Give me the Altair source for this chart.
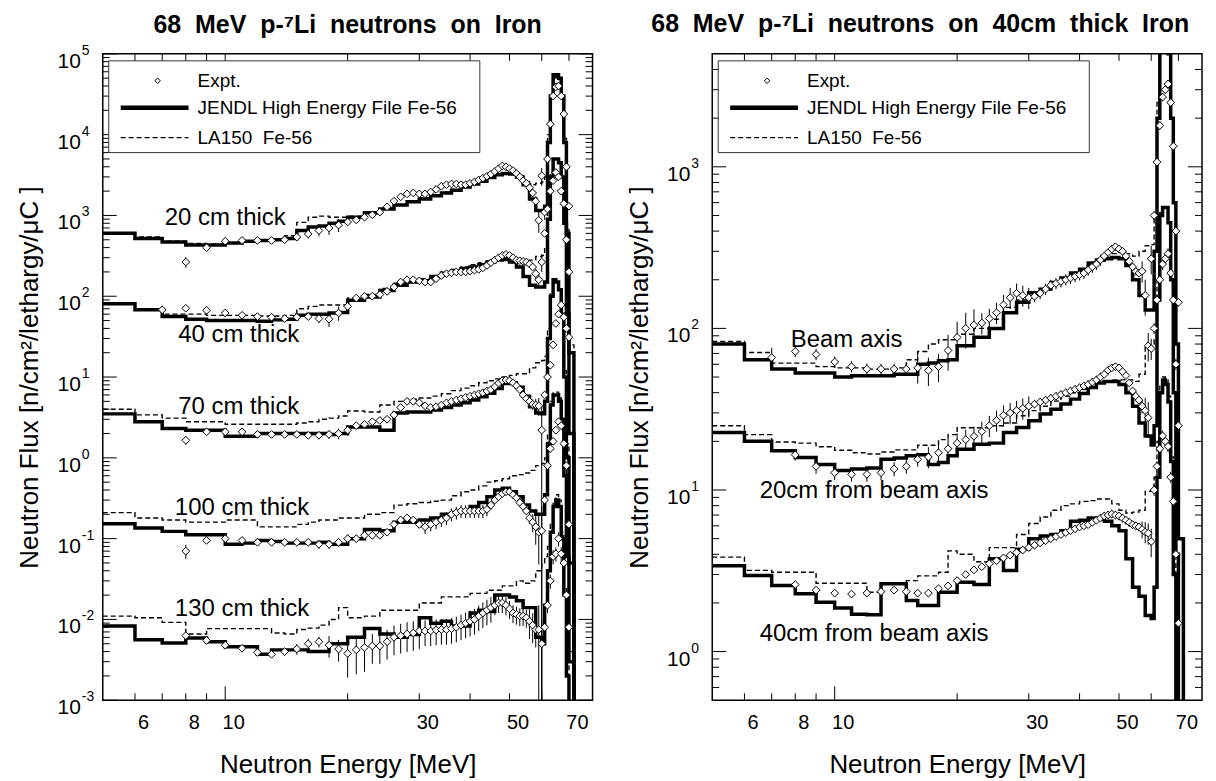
import altair as alt
import pandas as pd

FONT = "Liberation Sans"
NB = "\u00a0"

# ---------------- common grids ----------------
EDGES = [5, 6, 7, 8, 9, 10, 11, 12, 13, 14, 15, 16, 17, 18, 19, 20,
         22, 24, 26, 28, 30, 32, 34, 36, 38, 40, 42, 44, 46, 48, 50, 52, 54, 56, 58, 60,
         61, 62, 63, 64, 65, 66, 67, 68, 69, 70, 72, 75, 80]

EXP_E = [7, 8, 9, 10, 11, 12, 13, 14,
         15, 16, 17, 18, 19, 20, 21, 22,
         23, 24, 25, 26, 27, 28, 29, 30,
         31, 32, 33, 34, 35, 36, 37, 38,
         39, 40, 41, 42, 43, 44, 45, 46,
         47, 48, 49, 50, 51, 52, 53, 54,
         55, 56, 57, 58, 59, 60, 61, 62,
         63, 64, 65, 66, 67, 68, 69, 70]

# ---------------- left panel: thickness series ----------------
L20_J = [600, 520, 470, 430, 430, 455, 480, 490, 500, 520, 650, 720, 740, 800, 850,
         950, 1080, 1200, 1350, 1480, 1600, 1750, 1900, 2050, 2250, 2450, 2650, 2950, 3200, 3300,
         3250, 3000, 2400, 1600, 1150,
         1150, 1300, 8000, 30000, 55000, 55000, 50000, 30000, 8000, 600,
         20, 1e-6, 1e-6]
L20_L = [600, 540, 480, 450, 440, 460, 480, 490, 500, 560, 820, 950, 980, 950, 950,
         980, 1100, 1220, 1350, 1500, 1650, 1800, 1950, 2100, 2300, 2500, 2700, 3000, 3250, 3350,
         3300, 3100, 2700, 2400, 2500,
         2600, 3000, 10000, 30000, 50000, 52000, 48000, 30000, 9000, 700,
         25, 1e-6, 1e-6]
L20_X = [None, 265, 400, 480, 490, 490, 490, 500,
         540, 590, 650, 700, 760, 830, 880, 950,
         1020, 1100, 1280, 1500, 1700, 1850, 1900, 1850,
         1850, 1950, 2100, 2300, 2400, 2450, 2450, 2400,
         2400, 2500, 2600, 2750, 2900, 3050, 3250, 3500,
         3800, 4100, 4000, 3800, 3600, 3300, 3000, 2700,
         2500, 2200, 1900, 1500, 870, 3100, 1100, 5000,
         13500, 30000, 39000, 40000, 30000, 18000, 4000, 1300]
L20_E = [0, 15, 6, 5, 6, 6, 6, 8,
         10, 12, 15, 18, 18, 8, 6, 8,
         8, 8, 8, 4, 4, 4, 4, 4,
         4, 4, 4, 4, 4, 4, 4, 4,
         4, 4, 4, 4, 4, 4, 4, 4,
         4, 4, 4, 4, 4, 4, 4, 4,
         4, 4, 10, 15, 30, 25, 20, 6,
         5, 5, 5, 5, 5, 5, 8, 10]

L40_J = [81, 68, 56, 52, 50, 50, 50, 49, 51, 52, 58, 60, 60, 62, 63,
         89, 98, 118, 137, 150, 155, 175, 192, 205, 220, 230, 245, 265, 280, 285,
         265, 230, 175, 137, 130,
         130, 150, 900, 3000, 5000, 5000, 4500, 3000, 800, 60,
         2, 1e-6, 1e-6]
L40_L = [80, 68, 60, 60, 58, 58, 58, 57, 57, 58, 70, 75, 78, 78, 78,
         95, 105, 125, 145, 160, 165, 180, 200, 215, 230, 245, 260, 280, 295, 300,
         290, 270, 260, 280, 310,
         320, 400, 1200, 3200, 5000, 5000, 4500, 3000, 900, 70,
         3, 1e-6, 1e-6]
L40_X = [68, 71, 67, 62, 58, 56, 55, 53,
         55, 56, 53, 52, 62, 75, 95, 100,
         100, 105, 115, 130, 150, 160, 160, 155,
         150, 150, 165, 180, 190, 195, 200, 200,
         200, 205, 210, 215, 225, 240, 260, 280,
         300, 320, 330, 320, 300, 280, 275, 270,
         265, 250, 230, 190, 160, 265, 600, 1200,
         2000, 2700, 3400, 3000, 2000, 1400, 500, 200]
L40_E = [12, 6, 5, 5, 5, 5, 5, 5,
         5, 5, 12, 20, 20, 15, 10, 10,
         10, 10, 10, 8, 8, 8, 8, 8,
         4, 4, 4, 4, 4, 4, 4, 4,
         4, 4, 4, 4, 4, 4, 4, 4,
         4, 4, 4, 4, 4, 4, 4, 4,
         4, 4, 8, 15, 20, 25, 6, 6,
         6, 6, 6, 6, 6, 6, 8, 10]

L70_J = [3.5, 2.8, 2.3, 2.2, 2.2, 1.85, 1.85, 2.0, 2.0, 2.0, 2.0, 2.0, 2.0, 1.95, 2.0,
         2.4, 2.4, 2.2, 3.6, 3.7, 3.7, 3.9, 4.2, 4.5, 4.8, 5.2, 5.7, 6.3, 7.2, 8.3,
         8.5, 7.5, 5.8, 4.3, 3.6,
         3.5, 5, 30, 100, 160, 150, 120, 60, 10, 1.0,
         0.05, 1e-6, 1e-6]
L70_L = [4.0, 3.4, 3.1, 2.8, 2.8, 2.6, 2.6, 2.6, 2.6, 2.6, 2.7, 2.8, 3.0, 3.1, 3.3,
         3.8, 3.7, 4.5, 5.0, 5.3, 5.5, 5.8, 6.2, 6.8, 7.3, 7.8, 8.5, 9.0, 9.5, 10,
         10.5, 11, 11, 13, 15,
         16, 18, 40, 110, 150, 150, 120, 60, 12, 1.5,
         0.08, 1e-6, 1e-6]
L70_X = [None, 1.65, 2.1, 2.1, 2.1, 1.95, 1.95, 1.95,
         1.95, 1.9, 1.9, 1.95, 2.0, 2.2, 2.5, 2.6,
         2.8, 2.9, 3.0, 3.4, 4.2, 5.0, 5.0, 4.8,
         4.4, 4.2, 4.3, 4.5, 4.8, 5.0, 5.2, 5.4,
         5.6, 5.8, 6.0, 6.2, 6.4, 6.7, 7.0, 7.6,
         8.4, 9.0, 9.2, 9.0, 8.5, 7.8, 7.0, 6.0,
         5.4, 5.0, 4.6, 4.5, 4.4, 2.2, 6, 10,
         14, 25, 46, 60, 78, 55, 40, 31]
L70_E = [0, 12, 5, 5, 5, 5, 5, 5,
         5, 5, 8, 12, 15, 15, 10, 6,
         6, 6, 6, 6, 6, 6, 6, 6,
         4, 4, 4, 4, 4, 4, 4, 4,
         4, 4, 4, 4, 4, 4, 4, 4,
         4, 4, 4, 4, 4, 4, 4, 4,
         4, 10, 15, 20, 25, 100, 8, 8,
         8, 8, 8, 8, 8, 8, 8, 8]

L100_J = [0.153, 0.135, 0.123, 0.112, 0.112, 0.085, 0.088, 0.095, 0.092, 0.088, 0.088, 0.088, 0.09, 0.085, 0.085,
          0.1, 0.13, 0.125, 0.16, 0.16, 0.17, 0.18, 0.2, 0.21, 0.22, 0.25, 0.28, 0.33, 0.4, 0.42,
          0.38, 0.33, 0.26, 0.22, 0.2,
          0.2, 0.35, 1.5, 4.5, 6, 6, 5, 3, 0.6, 0.06,
          0.003, 1e-7, 1e-7]
L100_L = [0.21, 0.18, 0.17, 0.16, 0.16, 0.17, 0.17, 0.14, 0.14, 0.14, 0.15, 0.16, 0.17, 0.17, 0.18,
          0.18, 0.2, 0.21, 0.26, 0.27, 0.28, 0.29, 0.3, 0.34, 0.38, 0.4, 0.45, 0.5, 0.52, 0.55,
          0.6, 0.62, 0.65, 0.7, 0.8,
          0.85, 1.0, 2.0, 5.0, 6.5, 6.5, 5.5, 3, 0.7, 0.08,
          0.004, 1e-7, 1e-7]
L100_X = [None, 0.07, 0.095, 0.1, 0.095, 0.09, 0.09, 0.09,
          0.09, 0.09, 0.085, 0.085, 0.09, 0.1, 0.1, 0.11,
          0.11, 0.11, 0.12, 0.15, 0.17, 0.18, 0.17, 0.15,
          0.14, 0.15, 0.16, 0.17, 0.18, 0.2, 0.21, 0.22,
          0.22, 0.22, 0.22, 0.22, 0.22, 0.23, 0.26, 0.3,
          0.33, 0.36, 0.38, 0.38, 0.35, 0.32, 0.28, 0.25,
          0.22, 0.18, 0.16, 0.14, 0.12, 0.125, 0.3, 0.8,
          1.3, 1.6, 2.2, 2.8, 2.5, 1.5, 0.8, 0.15]
L100_E = [0, 20, 6, 6, 6, 6, 6, 6,
          6, 6, 12, 12, 12, 12, 10, 10,
          10, 10, 10, 10, 10, 10, 10, 10,
          18, 18, 18, 18, 18, 18, 18, 18,
          18, 18, 18, 18, 18, 18, 8, 8,
          8, 8, 8, 8, 8, 8, 8, 8,
          8, 15, 25, 40, 60, 100, 10, 10,
          10, 10, 10, 10, 10, 10, 10, 10]

L130_J = [0.0083, 0.0056, 0.0051, 0.0059, 0.0053, 0.0046, 0.0046, 0.0037, 0.0042, 0.0042, 0.0042, 0.004, 0.004, 0.005, 0.005,
          0.006, 0.0077, 0.0066, 0.006, 0.0065, 0.0105, 0.009, 0.0095, 0.0083, 0.0083, 0.012, 0.013, 0.0125, 0.02, 0.02,
          0.019, 0.017, 0.014, 0.014, 0.006,
          0.005, 0.015, 0.04, 0.12, 0.25, 0.3, 0.25, 0.1, 0.02, 0.002,
          1e-5, 1e-8, 1e-8]
L130_L = [0.011, 0.0105, 0.0092, 0.0066, 0.0077, 0.0077, 0.0077, 0.0077, 0.0068, 0.0066, 0.0075, 0.0078, 0.0085, 0.010, 0.014,
          0.0105, 0.011, 0.013, 0.013, 0.013, 0.016, 0.016, 0.019, 0.019, 0.019, 0.021, 0.021, 0.023, 0.023, 0.026,
          0.026, 0.03, 0.028, 0.03, 0.04,
          0.05, 0.06, 0.08, 0.15, 0.28, 0.35, 0.3, 0.12, 0.025, 0.003,
          1e-5, 1e-8, 1e-8]
L130_X = [None, 0.0063, 0.0055, 0.0048, 0.0044, 0.0039, 0.0037, 0.004,
          0.0043, 0.005, 0.0053, 0.0048, 0.0043, 0.0038, 0.0042, 0.0045,
          0.0047, 0.0047, 0.0053, 0.006, 0.0063, 0.0066, 0.0068, 0.0072,
          0.0072, 0.0072, 0.0074, 0.0075, 0.0075, 0.0077, 0.008, 0.0085,
          0.009, 0.0095, 0.01, 0.011, 0.012, 0.013, 0.014, 0.015,
          0.016, 0.016, 0.015, 0.0135, 0.012, 0.0115, 0.011, 0.011,
          0.0105, 0.0095, 0.0085, 0.0075, 0.0075, 0.005, 0.008, 0.015,
          0.03, 0.06, 0.065, 0.1, 0.065, 0.05, 0.02, 0.008]
L130_E = [0, 8, 8, 8, 8, 8, 8, 8,
          15, 15, 15, 30, 30, 50, 50, 50,
          40, 40, 40, 40, 40, 40, 40, 40,
          35, 35, 35, 35, 35, 35, 35, 35,
          35, 35, 35, 35, 35, 35, 35, 25,
          25, 25, 25, 25, 25, 25, 25, 25,
          25, 40, 40, 40, 100, 100, 20, 20,
          20, 20, 20, 20, 20, 20, 20, 20]

# ---------------- right panel: 40 cm iron, off-axis positions ----------------
RB_J = [80, 64, 56, 53, 53, 50, 51, 51, 51, 52, 52, 60, 61, 63, 64,
        78, 88, 100, 125, 145, 166, 175, 192, 205, 220, 232, 254, 265, 270, 275,
        270, 245, 200, 160, 130,
        130, 300, 2000, 5500, 7000, 7000, 5000, 2000, 600, 80,
        5, 1e-5, 1e-5]
RB_L = [83, 71, 61, 61, 58, 57, 57, 56, 56, 57, 64, 72, 80, 85, 85,
        92, 100, 114, 135, 150, 160, 175, 190, 200, 215, 230, 245, 260, 275, 290,
        295, 290, 280, 300, 325,
        330, 500, 2500, 5500, 7000, 6500, 5000, 2000, 600, 80,
        5, 1e-5, 1e-5]
RB_X = [66, 72, 69, 62, 58, 56, 56, 56,
        56, 57, 55, 58, 73, 88, 100, 105,
        108, 115, 125, 140, 155, 165, 160, 155,
        158, 165, 175, 185, 190, 195, 200, 205,
        210, 215, 220, 230, 240, 250, 265, 280,
        295, 310, 320, 310, 300, 280, 260, 240,
        225, 220, 226, 160, 78, 270, 500, 1070,
        1800, 2700, 3000, 3250, 2500, 1340, 400, 145]
RB_E = [15, 8, 8, 8, 8, 8, 8, 8,
        8, 20, 20, 20, 25, 25, 25, 25,
        15, 15, 15, 15, 15, 15, 15, 15,
        8, 8, 8, 8, 8, 8, 8, 8,
        8, 8, 8, 8, 8, 8, 8, 5,
        5, 5, 5, 5, 5, 5, 5, 5,
        5, 5, 15, 25, 20, 20, 6, 6,
        6, 6, 6, 6, 6, 6, 6, 6]

R20_J = [22.7, 20, 17.5, 15.9, 14.4, 13.2, 13.5, 13.7, 15.5, 15.8, 16.3, 16.5, 14.4, 14.8, 16.3,
         17.9, 19.2, 19.5, 22.7, 24.4, 26.8, 29.5, 31.6, 34, 36.5, 39.6, 43, 46, 47, 47,
         45, 40, 33, 26, 21.6,
         19, 25, 150, 500, 560, 560, 450, 200, 40, 4,
         0.3, 1e-5, 1e-5]
R20_L = [25, 22, 19.8, 19.5, 18.5, 17.6, 17, 16.7, 17.2, 17.7, 17.7, 18.9, 18.9, 20.5, 22,
         24.3, 24.3, 25, 26, 28.8, 31, 33, 35.5, 38, 40, 42, 44, 46, 47, 48,
         48, 48, 47, 52, 78,
         80, 85, 200, 520, 560, 560, 450, 200, 40, 4,
         0.3, 1e-5, 1e-5]
R20_X = [None, 16.5, 14, 12.8, 12.5, 12.5, 12.8, 13.5,
         14, 15.5, 16, 17, 18, 19.5, 20.5, 21.5,
         23, 25, 27, 29, 30, 31, 32, 33,
         34, 35, 36, 37, 38, 39, 40, 41,
         42, 43, 44, 45, 46.5, 48, 50, 52,
         55, 57, 58, 57, 54, 51, 46, 41,
         38, 36, 33, 31, 28, 75, 100, 150,
         200, 250, 270, 290, 220, 150, 60, 25]
R20_E = [0, 8, 10, 10, 10, 10, 10, 10,
         10, 10, 15, 15, 15, 15, 15, 15,
         15, 15, 15, 15, 15, 15, 15, 15,
         6, 6, 6, 6, 6, 6, 6, 6,
         6, 6, 6, 6, 6, 6, 6, 5,
         5, 5, 5, 5, 5, 5, 5, 5,
         5, 5, 10, 20, 25, 15, 8, 8,
         8, 8, 8, 8, 8, 8, 8, 8]

R40_J = [3.4, 2.96, 2.56, 2.28, 2.02, 1.86, 1.7, 1.69, 2.63, 2.63, 2.07, 1.93, 1.93, 2.33, 2.33,
         2.69, 2.6, 3.75, 3.18, 4.3, 5.0, 5.2, 5.3, 5.6, 6.4, 6.5, 6.7, 6.6, 6.4, 6.0,
         5.6, 3.75, 2.5, 2.2, 1.67,
         1.6, 2.5, 12, 40, 48, 45, 35, 15, 3, 0.4,
         0.02, 1e-6, 1e-6]
R40_L = [3.84, 3.18, 3.1, 3.1, 2.65, 2.65, 2.65, 2.33, 2.63, 2.63, 2.75, 2.94, 2.94, 3.1, 4.2,
         4.0, 3.6, 4.4, 4.4, 5.3, 6.2, 6.8, 7.5, 8.0, 8.2, 8.5, 8.6, 8.8, 8.8, 8.2,
         7.5, 7.2, 7.3, 7.5, 9.8,
         10, 12, 20, 45, 50, 48, 38, 16, 3.5, 0.5,
         0.03, 1e-6, 1e-6]
R40_X = [None, 2.6, 2.4, 2.3, 2.27, 2.3, 2.35, 2.4,
         2.35, 2.3, 2.3, 2.45, 2.55, 2.75, 3.0, 3.2,
         3.35, 3.5, 3.65, 3.8, 3.95, 4.1, 4.25, 4.4,
         4.55, 4.7, 4.85, 5.0, 5.15, 5.3, 5.45, 5.6,
         5.75, 5.9, 6.0, 6.1, 6.3, 6.5, 6.7, 6.9,
         7.0, 7.1, 7.0, 6.9, 6.7, 6.5, 6.3, 6.1,
         6.0, 5.9, 5.7, 5.5, 5.4, 4.8, 10, 14,
         18, 21.6, 20, 18.6, 12, 8.5, 4, 1.5]
R40_E = [0, 5, 5, 5, 5, 5, 5, 5,
         5, 5, 5, 5, 5, 5, 4, 4,
         4, 4, 4, 4, 4, 4, 4, 4,
         4, 4, 4, 4, 4, 4, 4, 4,
         4, 4, 4, 4, 4, 4, 4, 6,
         6, 6, 6, 6, 6, 6, 6, 6,
         6, 6, 12, 15, 15, 20, 8, 8,
         8, 8, 8, 8, 8, 8, 8, 8]

# ---------------- annotations / text ----------------
LEFT_LABELS = ["20 cm thick", "40 cm thick", "70 cm thick", "100 cm thick", "130 cm thick"]
LEFT_LABEL_E = [10.0, 10.8, 10.8, 11.0, 11.0]
LEFT_LABEL_V = [920, 33, 4.3, 0.24, 0.0133]
RIGHT_LABELS = ["Beam axis", "20cm from beam axis", "40cm from beam axis"]
RIGHT_LABEL_E = [10.7, 12.5, 12.5]
RIGHT_LABEL_V = [85, 9.9, 1.29]

X_TICK_LABELS = [6, 8, 10, 30, 50, 70]
X_MAJOR = [10]
X_MINOR = [6, 7, 8, 9, 20, 30, 40, 50, 60, 70]

LEGEND_TEXT = ["Expt.", "JENDL High Energy File Fe-56", "LA150" + NB + " Fe-56"]

TITLE_LEFT = NB.join(["68 ", "MeV ", "p-\u2077Li ", "neutrons ", "on ", "Iron"])
TITLE_RIGHT = NB.join(["68 ", "MeV ", "p-\u2077Li ", "neutrons ", "on ", "40cm ", "thick ", "Iron"])


def hist_frame(series):
    recs = []
    for name, vals in series.items():
        assert len(vals) == len(EDGES) - 1, (name, len(vals))
        for e, v in zip(EDGES[:-1], vals):
            recs.append({"series": name, "E": e, "flux": v})
        recs.append({"series": name, "E": EDGES[-1], "flux": vals[-1]})
    return pd.DataFrame(recs)


def exp_frame(series):
    recs = []
    for name, (vals, errs) in series.items():
        assert len(vals) == len(EXP_E) and len(errs) == len(EXP_E), name
        for e, v, r in zip(EXP_E, vals, errs):
            if v is None:
                continue
            lo = v * (1 - r / 100.0)
            recs.append({"series": name, "E": e, "flux": v,
                         "lo": lo if lo > 0 else 1e-12, "hi": v * (1 + r / 100.0)})
    return pd.DataFrame(recs)


W, H = 491, 648
ONE = pd.DataFrame({"k": [0]})


def panel(title, title_dx, title_off, jendl, la150, expt, lab_txt, lab_e, lab_v, ydomain, kmin, kmax):
    xs = alt.Scale(type="log", domain=[5, 80], nice=False)
    ys = alt.Scale(type="log", domain=ydomain, nice=False)
    ymajor = [10.0 ** k for k in range(kmin, kmax + 1)]
    yminor = [m * 10.0 ** k for k in range(kmin - 1, kmax + 1) for m in range(2, 10)
              if ydomain[0] < m * 10.0 ** k < ydomain[1]]

    xaxis = alt.Axis(values=X_TICK_LABELS, format="d", title="Neutron Energy [MeV]",
                     labelOffset=8, labelPadding=12, titlePadding=19,
                     ticks=False, domain=False, grid=False)
    yaxis = alt.Axis(values=ymajor, labels=False,
                     title="Neutron Flux [n/cm\u00b2/lethargy/\u03bcC ]",
                     titlePadding=60, ticks=False, domain=False, grid=False)

    def X(f):
        return alt.X(f, scale=xs, axis=xaxis)

    def Y(f):
        return alt.Y(f, scale=ys, axis=yaxis)

    def yt(vals, x0, x1):
        return alt.Chart(pd.DataFrame({"t": vals})).mark_rule(color="black", strokeWidth=1).encode(
            y=Y("t:Q"), x=alt.value(x0), x2=alt.value(x1))

    def xt(vals, y0, y1):
        return alt.Chart(pd.DataFrame({"t": vals})).mark_rule(color="black", strokeWidth=1).encode(
            x=X("t:Q"), y=alt.value(y0), y2=alt.value(y1))

    ticks = [yt(ymajor, 0, 14), yt(yminor, 0, 7), yt(ymajor, W - 14, W), yt(yminor, W - 7, W),
             xt(X_MAJOR, H, H - 14), xt(X_MINOR, H, H - 7), xt(X_MAJOR, 0, 14), xt(X_MINOR, 0, 7)]

    ylab = pd.DataFrame({"v": ymajor, "e": [str(k) for k in range(kmin, kmax + 1)]})
    ybase = alt.Chart(ylab).mark_text(text="10", font=FONT, fontSize=21, color="black",
                                      align="right", baseline="middle", dy=8).encode(
        y=Y("v:Q"), x=alt.value(-22))
    yexp = alt.Chart(ylab).mark_text(font=FONT, fontSize=14, color="black",
                                     align="left", baseline="middle", dy=-3).encode(
        y=Y("v:Q"), x=alt.value(-21), text="e:N")

    la = alt.Chart(hist_frame(la150)).mark_line(
        interpolate="step-after", color="black", strokeWidth=1.4, strokeDash=[5, 3], clip=True
    ).encode(x=X("E:Q"), y=Y("flux:Q"), detail="series:N")
    je = alt.Chart(hist_frame(jendl)).mark_line(
        interpolate="step-after", color="black", strokeWidth=3.5, strokeJoin="miter", clip=True
    ).encode(x=X("E:Q"), y=Y("flux:Q"), detail="series:N")
    edf = exp_frame(expt)
    err = alt.Chart(edf).mark_rule(color="black", strokeWidth=1, clip=True).encode(
        x=X("E:Q"), y=Y("lo:Q"), y2="hi:Q")
    pts = alt.Chart(edf).mark_point(shape="diamond", filled=True, fill="white", stroke="black",
                                    strokeWidth=1, size=60, opacity=1, clip=True).encode(
        x=X("E:Q"), y=Y("flux:Q"))
    lab = alt.Chart(pd.DataFrame({"label": lab_txt, "E": lab_e, "flux": lab_v})).mark_text(
        font=FONT, fontSize=24, color="black", align="center", baseline="middle").encode(
        x=X("E:Q"), y=Y("flux:Q"), text="label:N")

    box = alt.Chart(ONE).mark_rect(fill="white", stroke="#333333", strokeWidth=1).encode(
        x=alt.value(6), x2=alt.value(378), y=alt.value(7), y2=alt.value(99))
    leg_pt = alt.Chart(ONE).mark_point(shape="diamond", filled=True, fill="white", stroke="black",
                                       strokeWidth=1, size=30, opacity=1).encode(
        x=alt.value(55), y=alt.value(27))
    leg_j = alt.Chart(ONE).mark_rule(color="black", strokeWidth=4.5).encode(
        x=alt.value(18), x2=alt.value(86), y=alt.value(54))
    leg_l = alt.Chart(ONE).mark_rule(color="black", strokeWidth=1.4, strokeDash=[5, 3]).encode(
        x=alt.value(18), x2=alt.value(86), y=alt.value(84))
    leg_txt = [alt.Chart(ONE).mark_text(text=t, font=FONT, fontSize=19, color="black",
                                        align="left", baseline="middle").encode(
        x=alt.value(95), y=alt.value(yy)) for t, yy in zip(LEGEND_TEXT, [27, 54, 84])]

    layers = [la, je, err, pts, lab] + ticks + [ybase, yexp, box, leg_pt, leg_j, leg_l] + leg_txt
    return alt.layer(*layers).properties(
        width=W, height=H,
        title=alt.Title(title, font=FONT, fontSize=25, fontWeight="bold", color="black",
                        anchor="middle", frame="group", offset=title_off, dx=title_dx))


left = panel(TITLE_LEFT, 0, 6,
             {"20": L20_J, "40": L40_J, "70": L70_J, "100": L100_J, "130": L130_J},
             {"20": L20_L, "40": L40_L, "70": L70_L, "100": L100_L, "130": L130_L},
             {"20": (L20_X, L20_E), "40": (L40_X, L40_E), "70": (L70_X, L70_E),
              "100": (L100_X, L100_E), "130": (L130_X, L130_E)},
             LEFT_LABELS, LEFT_LABEL_E, LEFT_LABEL_V, [1e-3, 1e5], -3, 5)

right = panel(TITLE_RIGHT, -37, 16,
              {"b": RB_J, "20": R20_J, "40": R40_J},
              {"b": RB_L, "20": R20_L, "40": R40_L},
              {"b": (RB_X, RB_E), "20": (R20_X, R20_E), "40": (R40_X, R40_E)},
              RIGHT_LABELS, RIGHT_LABEL_E, RIGHT_LABEL_V, [0.5, 5000], 0, 3)

chart = alt.hconcat(left, right, spacing=120, bounds="flush").properties(
    padding={"left": 8, "right": 4, "top": 2, "bottom": 0}
).configure_view(stroke="black", strokeWidth=1.5).configure_axis(
    grid=False, ticks=False, domain=False, labelFont=FONT, titleFont=FONT,
    labelFontSize=20, titleFontSize=26, titleFontWeight="normal",
    labelColor="black", titleColor="black")

chart.save("out.html", embed_options={"renderer": "svg", "actions": False})
